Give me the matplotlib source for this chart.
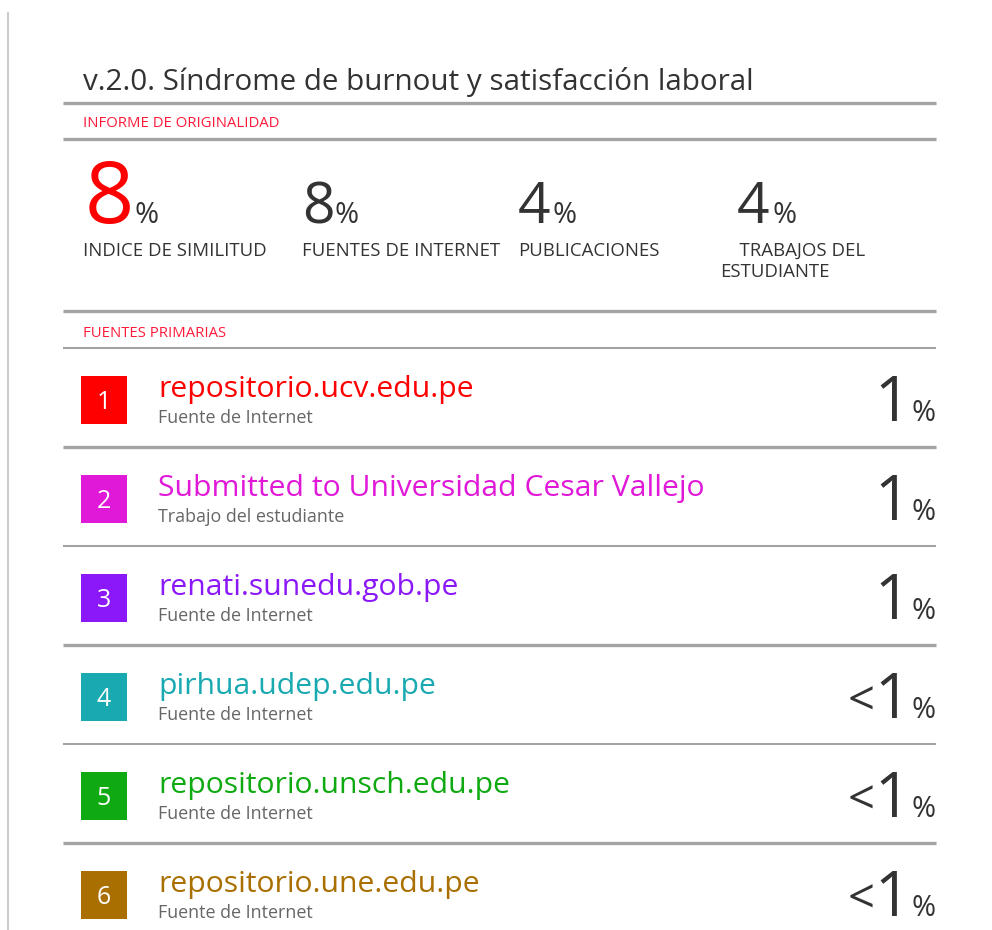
import matplotlib.pyplot as plt
from matplotlib.patches import Rectangle

plt.rcParams['font.family'] = ['Open Sans', 'DejaVu Sans']

title = "v.2.0. Síndrome de burnout y satisfacción laboral"
header_report = "INFORME DE ORIGINALIDAD"
header_sources = "FUENTES PRIMARIAS"

stat_values = ["8", "8", "4", "4"]
stat_labels = ["INDICE DE SIMILITUD", "FUENTES DE INTERNET", "PUBLICACIONES",
               "    TRABAJOS DEL\nESTUDIANTE"]

source_names = ["repositorio.ucv.edu.pe",
                "Submitted to Universidad Cesar Vallejo",
                "renati.sunedu.gob.pe",
                "pirhua.udep.edu.pe",
                "repositorio.unsch.edu.pe",
                "repositorio.une.edu.pe"]
source_types = ["Fuente de Internet", "Trabajo del estudiante", "Fuente de Internet",
                "Fuente de Internet", "Fuente de Internet", "Fuente de Internet"]
source_pcts = ["1", "1", "1", "<1", "<1", "<1"]
source_colors = ["#FF0000", "#E018D8", "#8B18F8", "#19A9B1", "#0FAA12", "#A96F00"]

red = "#FF1A3A"
dark = "#333333"
gray_txt = "#666666"
line_c = "#A3A3A3"

fig = plt.figure(figsize=(9.92, 9.30), dpi=100)
ax = fig.add_axes([0, 0, 1, 1])
ax.set_xlim(0, 992)
ax.set_ylim(930, 0)
ax.axis("off")
renderer = fig.canvas.get_renderer()


def fit(t, width):
    # scale font so the text spans the given pixel width
    w = t.get_window_extent(renderer).width
    t.set_fontsize(t.get_fontsize() * width / w)
    return t.get_fontsize()


# page edge on the left
ax.plot([8, 8], [13, 930], color="#CCCCCC", lw=1.5)

t = ax.text(83, 90, title, fontsize=22, color=dark, va="baseline")
fit(t, 672)

for y, lw in [(103, 2.4), (139, 2.4), (311, 2.4), (348, 1.5)]:
    ax.plot([63, 936], [y, y], color=line_c, lw=lw, solid_capstyle="butt")

h = ax.text(83, 127, header_report, fontsize=8, color=red, va="baseline")
fs_hdr = fit(h, 196)
ax.text(83, 337, header_sources, fontsize=fs_hdr, color=red, va="baseline")

# summary numbers
stat_x = [85, 302, 518, 737]
stat_pct_x = [134, 335, 553, 772]
stat_fs = [62, 41, 41, 41]
label_x = [83, 302, 518, 720]

lab = ax.text(83, 256, stat_labels[0], fontsize=10, color=dark, va="baseline")
fs_lab = fit(lab, 184)
lab.remove()

for i, v in enumerate(stat_values):
    ax.text(stat_x[i], 223, v, fontsize=stat_fs[i], color="#FF0000" if i == 0 else dark,
            va="baseline")
    ax.text(stat_pct_x[i], 223, "%", fontsize=21, color=dark, va="baseline")
    lines = stat_labels[i].split("\n")
    for k, s in enumerate(lines):
        ax.text(label_x[i], 256 + 21 * k, s, fontsize=fs_lab, color=dark, va="baseline")

# primary sources
nm = ax.text(158, 0, source_names[0], fontsize=20, va="baseline")
fs_name = fit(nm, 315)
nm.remove()
tp = ax.text(158, 0, source_types[0], fontsize=12, va="baseline")
fs_type = fit(tp, 154)
tp.remove()

row_h = 99
for i, name in enumerate(source_names):
    yc = 348 + row_h * (i + 0.5)
    c = source_colors[i]
    ax.add_patch(Rectangle((81, yc + 2 - 24), 46, 48, color=c, lw=0))
    ax.text(104, yc + 2 + 9, str(i + 1), fontsize=18, color="white",
            ha="center", va="baseline")
    ax.text(158, yc - 1, name, fontsize=fs_name, color=c, va="baseline")
    ax.text(158, yc + 25, source_types[i], fontsize=fs_type, color=gray_txt, va="baseline")

    pct = source_pcts[i]
    ax.text(936, yc + 23, "%", fontsize=21, color=dark, ha="right", va="baseline")
    ax.text(910, yc + 23, pct.lstrip("<"), fontsize=45, color=dark, ha="right", va="baseline")
    if pct.startswith("<"):
        ax.text(875, yc + 21, "<", fontsize=34, color=dark, ha="right", va="baseline")

    ly = 348 + row_h * (i + 1)
    if ly < 930:
        ax.plot([63, 936], [ly, ly], color=line_c,
                lw=2.4 if i % 2 == 0 else 1.5, solid_capstyle="butt")

fig.savefig("out.png", dpi=100)
